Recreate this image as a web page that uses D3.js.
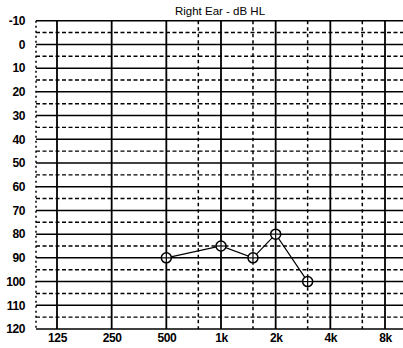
<!DOCTYPE html>
<html>
<head>
<meta charset="utf-8">
<script src="https://cdn.jsdelivr.net/npm/d3@7"></script>
<style>
  html, body { margin: 0; padding: 0; background: #fff; }
  svg { display: block; }
</style>
</head>
<body>
<svg id="chart" width="403" height="348"></svg>
<script>
// Audiogram, right ear, air conduction thresholds in dB HL
const octaveFreqs = [125, 250, 500, 1000, 2000, 4000, 8000];
const octaveLabels = ["125", "250", "500", "1k", "2k", "4k", "8k"];
const interOctaveFreqs = [750, 1500, 3000, 6000];
const levelTicks = [-10, 0, 10, 20, 30, 40, 50, 60, 70, 80, 90, 100, 110, 120];
const halfLevels = [-5, 5, 15, 25, 35, 45, 55, 65, 75, 85, 95, 105, 115];
const testFreqs = [500, 1000, 1500, 2000, 3000];
const thresholds = [90, 85, 90, 80, 100];

const W = 403, H = 348;
const plotLeft = 36, plotRight = 403;

const svg = d3.select("#chart");

const x = d3.scaleLog().base(2).domain([125, 8000]).range([57, 385]);
const y = d3.scaleLinear().domain([-10, 120]).range([20.7, 329]);

const ink = "#000";
const labelFont = "Liberation Sans, Arial, sans-serif";

// horizontal grid: solid every 10 dB, dashed at the 5 dB steps
svg.append("g").selectAll("line").data(halfLevels).join("line")
  .attr("x1", plotLeft).attr("x2", plotRight)
  .attr("y1", d => y(d)).attr("y2", d => y(d))
  .attr("stroke", ink).attr("stroke-width", 1.4)
  .attr("stroke-dasharray", "4,2.5");

svg.append("g").selectAll("line").data(levelTicks).join("line")
  .attr("x1", plotLeft).attr("x2", plotRight)
  .attr("y1", d => y(d)).attr("y2", d => y(d))
  .attr("stroke", ink).attr("stroke-width", 1.5);

// vertical grid: solid at octaves, dashed at inter-octaves
svg.append("g").selectAll("line").data(interOctaveFreqs).join("line")
  .attr("x1", d => x(d)).attr("x2", d => x(d))
  .attr("y1", y(-10)).attr("y2", y(120))
  .attr("stroke", ink).attr("stroke-width", 1.5)
  .attr("stroke-dasharray", "3.5,3");

svg.append("g").selectAll("line").data(octaveFreqs).join("line")
  .attr("x1", d => x(d)).attr("x2", d => x(d))
  .attr("y1", y(-10)).attr("y2", y(120))
  .attr("stroke", ink).attr("stroke-width", 1.8);

// left frame edge (dotted)
svg.append("line")
  .attr("x1", plotLeft).attr("x2", plotLeft)
  .attr("y1", y(-10)).attr("y2", y(120))
  .attr("stroke", ink).attr("stroke-width", 1.5)
  .attr("stroke-dasharray", "2,3");

// level axis labels (plain hyphen for negatives)
const yAxis = d3.axisLeft(y).tickValues(levelTicks).tickSize(0).tickPadding(0)
  .tickFormat(d => String(d));
svg.append("g")
  .attr("transform", "translate(25,0)")
  .call(yAxis)
  .call(g => g.select(".domain").remove())
  .call(g => g.selectAll("text")
    .attr("font-family", labelFont)
    .attr("font-size", 12).attr("font-weight", "bold")
    .attr("fill", ink).attr("letter-spacing", -0.4));

// frequency axis labels
const xAxis = d3.axisBottom(x).tickValues(octaveFreqs).tickSize(0).tickPadding(0)
  .tickFormat((d, i) => octaveLabels[i]);
svg.append("g")
  .attr("transform", "translate(0,333)")
  .call(xAxis)
  .call(g => g.select(".domain").remove())
  .call(g => g.selectAll("text")
    .attr("font-family", labelFont)
    .attr("font-size", 12).attr("font-weight", "bold")
    .attr("fill", ink).attr("letter-spacing", -0.4));

// title
svg.append("text")
  .attr("x", 220).attr("y", 15)
  .attr("text-anchor", "middle")
  .attr("font-family", labelFont)
  .attr("font-size", 11.5)
  .attr("fill", ink)
  .text("Right Ear - dB HL");

// threshold trace
const pts = testFreqs.map((f, i) => ({ f, v: thresholds[i] }));
svg.append("path")
  .datum(pts)
  .attr("fill", "none").attr("stroke", ink).attr("stroke-width", 1.2)
  .attr("d", d3.line().x(d => x(d.f)).y(d => y(d.v)));

// circled-cross symbols
const r = 5;
const sym = svg.append("g").selectAll("g").data(pts).join("g")
  .attr("transform", d => `translate(${x(d.f)},${y(d.v)})`);
sym.append("circle").attr("r", r)
  .attr("fill", "#fff").attr("stroke", ink).attr("stroke-width", 1.5);
sym.append("line").attr("x1", -r).attr("x2", r).attr("y1", 0).attr("y2", 0)
  .attr("stroke", ink).attr("stroke-width", 1.2);
sym.append("line").attr("x1", 0).attr("x2", 0).attr("y1", -r).attr("y2", r)
  .attr("stroke", ink).attr("stroke-width", 1.2);
</script>
</body>
</html>
